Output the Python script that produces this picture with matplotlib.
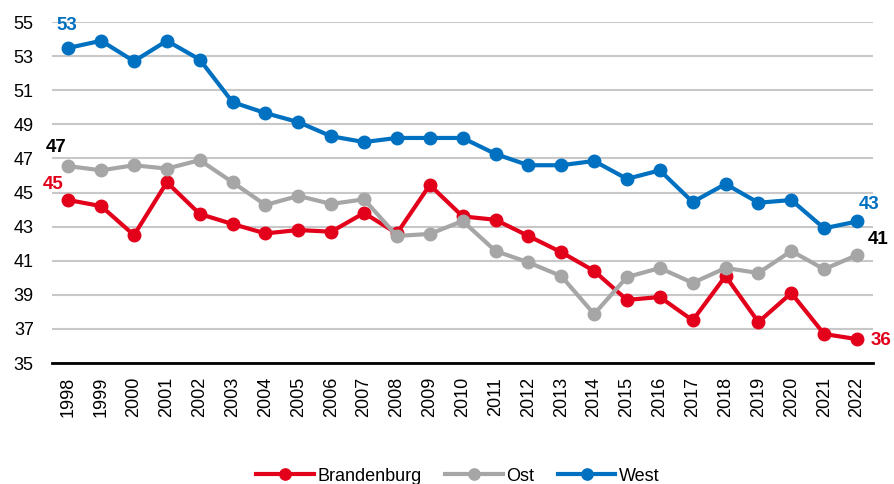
import matplotlib
matplotlib.use("Agg")
import matplotlib.pyplot as plt

years = [str(y) for y in range(1998, 2023)]
brandenburg = [44.56, 44.2, 42.5, 45.6, 43.74, 43.15, 42.6, 42.8, 42.7, 43.8, 42.6, 45.44, 43.6,
               43.4, 42.45, 41.5, 40.4, 38.7, 38.87, 37.5, 40.1, 37.4, 39.1, 36.7, 36.4]
ost = [46.55, 46.3, 46.6, 46.4, 46.9, 45.6, 44.27, 44.8, 44.33, 44.6, 42.45, 42.57, 43.33,
       41.57, 40.9, 40.1, 37.87, 40.04, 40.57, 39.7, 40.57, 40.28, 41.57, 40.5, 41.33]
west = [53.48, 53.9, 52.7, 53.9, 52.8, 50.3, 49.66, 49.13, 48.3, 47.96, 48.2, 48.2, 48.2,
        47.26, 46.6, 46.6, 46.85, 45.8, 46.3, 44.44, 45.5, 44.4, 44.56, 42.9, 43.3]
yticks = [35, 37, 39, 41, 43, 45, 47, 49, 51, 53, 55]

plt.rcParams['font.family'] = ['Liberation Sans', 'DejaVu Sans']

RED = '#E2001A'
GRAY = '#A6A6A6'
BLUE = '#0070C0'

fig = plt.figure(figsize=(8.94, 4.84), dpi=100)
ax = fig.add_axes([0.058, 0.25, 0.919, 0.7045])

x = list(range(len(years)))
ax.plot(x, brandenburg, color=RED, lw=3, marker='o', ms=9, label='Brandenburg', zorder=3)
ax.plot(x, ost, color=GRAY, lw=3, marker='o', ms=9, label='Ost', zorder=3)
ax.plot(x, west, color=BLUE, lw=3, marker='o', ms=9, label='West', zorder=3)

ax.set_xlim(-0.5, len(years) - 0.5)
ax.set_ylim(35, 55)
ax.set_yticks(yticks)
ax.set_xticks(x)
ax.set_xticklabels(years, rotation=90, fontsize=13)
ax.tick_params(axis='y', labelsize=13, length=0, pad=13)
ax.tick_params(axis='x', length=0, pad=10)
ax.yaxis.grid(True, color='#C8C8C8', lw=1.5)
ax.set_axisbelow(True)
for s in ['left', 'right', 'top']:
    ax.spines[s].set_visible(False)
ax.spines['bottom'].set_color('black')
ax.spines['bottom'].set_linewidth(2)
ax.spines['bottom'].set_zorder(4)

LFS = 13.5
ax.annotate(f"{round(west[0])}", (0, west[0]), xytext=(-1, 10), textcoords='offset points',
            ha='center', va='bottom', color=BLUE, fontsize=LFS, fontweight='bold', annotation_clip=False)
ax.annotate(f"{round(ost[0])}", (0, ost[0]), xytext=(-9, 7), textcoords='offset points',
            ha='center', va='bottom', color='black', fontsize=LFS, fontweight='bold', annotation_clip=False)
ax.annotate(f"{round(brandenburg[0])}", (0, brandenburg[0]), xytext=(-11, 5), textcoords='offset points',
            ha='center', va='bottom', color=RED, fontsize=LFS, fontweight='bold', annotation_clip=False)
n = len(years) - 1
ax.annotate(f"{round(west[n])}", (n, west[n]), xytext=(1, 6), textcoords='offset points',
            ha='left', va='bottom', color=BLUE, fontsize=LFS, fontweight='bold', annotation_clip=False)
ax.annotate(f"{round(ost[n])}", (n, ost[n]), xytext=(8, 5), textcoords='offset points',
            ha='left', va='bottom', color='black', fontsize=LFS, fontweight='bold', annotation_clip=False)
ax.annotate(f"{round(brandenburg[n])}", (n, brandenburg[n]), xytext=(10, -1), textcoords='offset points',
            ha='left', va='center', color=RED, fontsize=LFS, fontweight='bold', annotation_clip=False)

fig.legend(loc='lower center', bbox_to_anchor=(0.512, -0.035), ncol=3, frameon=False,
           fontsize=13, handlelength=3.2, handletextpad=0.2, columnspacing=1.3, markerscale=0.9)

fig.savefig('out.png', dpi=100)
